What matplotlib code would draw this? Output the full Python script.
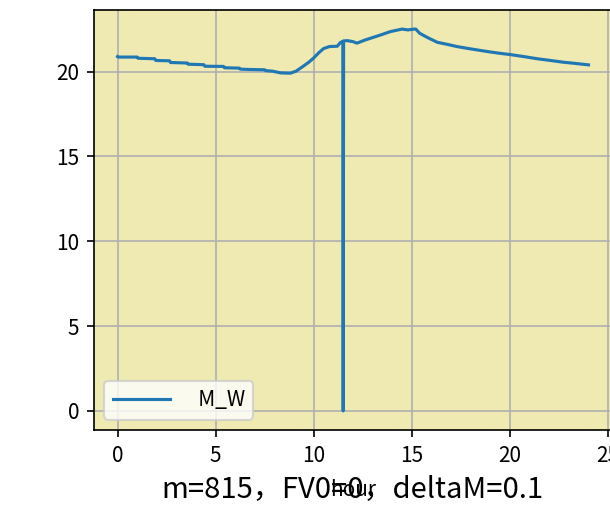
import matplotlib
matplotlib.use("Agg")
import matplotlib.pyplot as plt

plt.rcParams["font.family"] = ["Noto Sans CJK SC", "DejaVu Sans"]
plt.rcParams["axes.unicode_minus"] = False

hours = [0.0, 0.05, 1.0, 1.05, 1.9, 1.95, 2.65, 2.7, 3.55, 3.6, 4.4, 4.45,
         5.4, 5.45, 6.2, 6.25, 6.7, 7.5, 7.55, 7.9, 8.3, 8.8, 9.1, 9.45,
         9.75, 10.0, 10.25, 10.5, 10.8, 11.2, 11.35, 11.48, 11.5, 11.52,
         11.7, 12.0, 12.2, 12.6, 13.0, 13.4, 13.9, 14.3, 14.5, 14.8, 15.1,
         15.2, 15.4, 15.8, 16.3, 16.8, 17.3, 17.9, 18.5, 19.0, 19.5, 20.0,
         20.7, 21.4, 22.0, 22.7, 23.3, 24.0]
m_w = [20.88, 20.85, 20.85, 20.78, 20.75, 20.65, 20.63, 20.53, 20.5, 20.43,
       20.4, 20.31, 20.3, 20.22, 20.2, 20.14, 20.12, 20.1, 20.05, 20.02,
       19.92, 19.9, 20.02, 20.3, 20.55, 20.8, 21.1, 21.35, 21.47, 21.49,
       21.7, 21.78, 0.0, 21.8, 21.82, 21.76, 21.67, 21.85, 22.0, 22.15,
       22.35, 22.45, 22.5, 22.45, 22.5, 22.5, 22.25, 22.0, 21.72, 21.6,
       21.47, 21.35, 21.24, 21.15, 21.07, 21.0, 20.88, 20.75, 20.66, 20.55,
       20.48, 20.39]

caption = "m=815，FV0=0，deltaM=0.1"

fig = plt.figure(figsize=(610 / 150, 507 / 150), dpi=150)
ax = fig.add_axes([0.1541, 0.1519, 0.8492, 0.8284])
ax.set_facecolor("#EEEAB2")
ax.plot(hours, m_w, color="#1f77b4", linewidth=1.5, label="  M_W")
ax.set_xticks([0, 5, 10, 15, 20, 25])
ax.set_yticks([0, 5, 10, 15, 20])
ax.grid(True, color="#b0b0b0", linewidth=0.8)
ax.set_axisbelow(True)
ax.set_xlabel("hour", labelpad=6)
ax.legend(loc="lower left", handlelength=2.75, handletextpad=0.9)
fig.text(352 / 610, 10 / 507, caption, ha="center", va="baseline", fontsize=14)

fig.savefig("out.png", dpi=150)
